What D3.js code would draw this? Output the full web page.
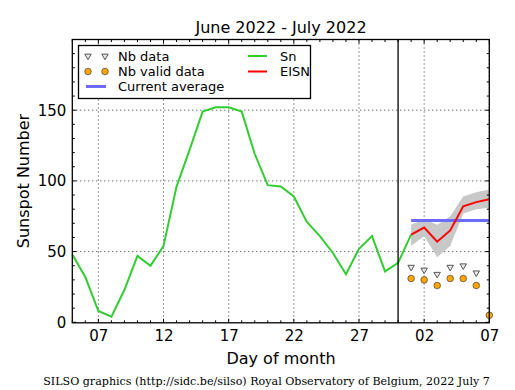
<!DOCTYPE html>
<html>
<head>
<meta charset="utf-8">
<script src="https://cdn.jsdelivr.net/npm/d3@7"></script>
<style>
  body { margin: 0; background: #fff; }
  text { font-family: "DejaVu Sans", sans-serif; fill: #000; }
</style>
</head>
<body>
<div id="okvir"></div>
<script>
// podaci ocitani sa slike
const snDays = ["2022-06-05","2022-06-06","2022-06-07","2022-06-08","2022-06-09","2022-06-10","2022-06-11","2022-06-12","2022-06-13","2022-06-14","2022-06-15","2022-06-16","2022-06-17","2022-06-18","2022-06-19","2022-06-20","2022-06-21","2022-06-22","2022-06-23","2022-06-24","2022-06-25","2022-06-26","2022-06-27","2022-06-28","2022-06-29","2022-06-30","2022-07-01"]
const snValues = [48, 32, 8, 4, 23, 47, 40, 54, 96, 122, 149, 152, 152, 149, 119, 97, 96, 89, 71, 61, 49, 34, 52, 61, 36, 42, 62]

const eisnDays = ["2022-07-01","2022-07-02","2022-07-03","2022-07-04","2022-07-05","2022-07-06","2022-07-07"]
const eisnValues = [62, 67, 57, 65, 82, 85, 87]
const eisnUpper = [69, 73, 69, 75, 89, 92, 94]
const eisnLower = [54, 61, 46, 54, 77, 80, 81]

const nbDays = ["2022-07-01","2022-07-02","2022-07-03","2022-07-04","2022-07-05","2022-07-06"]
const nbData = [39, 37, 34, 39, 40, 35]
const validDays = ["2022-07-01","2022-07-02","2022-07-03","2022-07-04","2022-07-05","2022-07-06","2022-07-07"]
const nbValid = [31, 30, 26, 31, 31, 26, 5]

const currentAverage = 72
const averageDays = ["2022-07-01", "2022-07-07"]
const splitDay = "2022-06-30"

const xTickDays = ["2022-06-07","2022-06-12","2022-06-17","2022-06-22","2022-06-27","2022-07-02","2022-07-07"]
const yTicks = [0, 50, 100, 150]

const parse = d3.utcParse("%Y-%m-%d")

let dimenzije = {
  sirina: 515,
  visina: 390,
  lijevo: 72.3,
  desno: 489.3,
  gore: 39.5,
  dolje: 322.8,
}

const okvir = d3.select("#okvir").append("svg")
  .attr("width", dimenzije.sirina)
  .attr("height", dimenzije.visina)

const xSkala = d3.scaleUtc()
  .domain([parse("2022-06-05"), parse("2022-07-07")])
  .range([dimenzije.lijevo, dimenzije.desno])

const ySkala = d3.scaleLinear()
  .domain([0, 200])
  .range([322.3, 39.5])

// mreza
const mreza = okvir.append("g")
mreza.selectAll(".gx").data(xTickDays).join("line")
  .attr("x1", d => xSkala(parse(d))).attr("x2", d => xSkala(parse(d)))
  .attr("y1", dimenzije.gore).attr("y2", dimenzije.dolje)
  .attr("stroke", "#000").attr("stroke-width", 0.8).attr("stroke-dasharray", "1,3")
mreza.selectAll(".gy").data(yTicks.filter(d => d > 0)).join("line")
  .attr("x1", dimenzije.lijevo).attr("x2", dimenzije.desno)
  .attr("y1", d => ySkala(d)).attr("y2", d => ySkala(d))
  .attr("stroke", "#000").attr("stroke-width", 0.8).attr("stroke-dasharray", "1,3")

// sivi pojas oko EISN
const pojas = d3.area()
  .x((d, i) => xSkala(parse(eisnDays[i])))
  .y0((d, i) => ySkala(eisnLower[i]))
  .y1((d, i) => ySkala(eisnUpper[i]))
okvir.append("path")
  .attr("d", pojas(eisnDays))
  .attr("fill", "#c8c8c8")

// trenutni prosjek
okvir.append("line")
  .attr("x1", xSkala(parse(averageDays[0]))).attr("x2", xSkala(parse(averageDays[1])))
  .attr("y1", ySkala(currentAverage)).attr("y2", ySkala(currentAverage))
  .attr("stroke", "#6b6bff").attr("stroke-width", 3)

// Sn linija
const linija = d3.line()
okvir.append("path")
  .attr("d", linija(snDays.map((d, i) => [xSkala(parse(d)), ySkala(snValues[i])])))
  .attr("fill", "none").attr("stroke", "#33cc33").attr("stroke-width", 2)

// EISN linija
okvir.append("path")
  .attr("d", linija(eisnDays.map((d, i) => [xSkala(parse(d)), ySkala(eisnValues[i])])))
  .attr("fill", "none").attr("stroke", "#ff0000").attr("stroke-width", 2)

// Nb data trokuti
const trokut = d3.symbol().type(d3.symbolTriangle).size(18)
okvir.selectAll(".nb").data(nbData).join("path")
  .attr("d", trokut())
  .attr("transform", (d, i) => `translate(${xSkala(parse(nbDays[i]))},${ySkala(d)}) rotate(180)`)
  .attr("fill", "#e8e8e8").attr("stroke", "#555").attr("stroke-width", 1)

// Nb valid data krugovi
okvir.selectAll(".valid").data(nbValid).join("circle")
  .attr("cx", (d, i) => xSkala(parse(validDays[i])))
  .attr("cy", d => ySkala(d))
  .attr("r", 3.3)
  .attr("fill", "#ffa500").attr("stroke", "#444").attr("stroke-width", 0.7)

// okomita linija
okvir.append("line")
  .attr("x1", xSkala(parse(splitDay))).attr("x2", xSkala(parse(splitDay)))
  .attr("y1", dimenzije.gore).attr("y2", dimenzije.dolje)
  .attr("stroke", "#000").attr("stroke-width", 1.3)

// okvir grafa
okvir.append("rect")
  .attr("x", dimenzije.lijevo).attr("y", dimenzije.gore)
  .attr("width", dimenzije.desno - dimenzije.lijevo)
  .attr("height", dimenzije.dolje - dimenzije.gore)
  .attr("fill", "none").attr("stroke", "#000").attr("stroke-width", 1.3)

// osi - kvacice prema unutra
const sviDani = d3.utcDay.range(parse("2022-06-05"), parse("2022-07-08"))
const kvacice = okvir.append("g")
sviDani.forEach(d => {
  const x = xSkala(d)
  const major = xTickDays.some(t => +parse(t) === +d)
  const l = major ? 4 : 2.5
  kvacice.append("line").attr("x1", x).attr("x2", x).attr("y1", dimenzije.dolje).attr("y2", dimenzije.dolje - l).attr("stroke", "#000")
  kvacice.append("line").attr("x1", x).attr("x2", x).attr("y1", dimenzije.gore).attr("y2", dimenzije.gore + l).attr("stroke", "#000")
})
d3.range(0, 201, 10).forEach(v => {
  const y = ySkala(v)
  const l = v % 50 === 0 ? 4 : 2.5
  kvacice.append("line").attr("x1", dimenzije.lijevo).attr("x2", dimenzije.lijevo + l).attr("y1", y).attr("y2", y).attr("stroke", "#000")
  kvacice.append("line").attr("x1", dimenzije.desno).attr("x2", dimenzije.desno - l).attr("y1", y).attr("y2", y).attr("stroke", "#000")
})

const xOs = d3.axisBottom(xSkala)
  .tickValues(xTickDays.map(parse))
  .tickFormat(d3.utcFormat("%d"))
  .tickSize(0).tickPadding(8)
const xg = okvir.append("g").attr("transform", `translate(0,${dimenzije.dolje})`).call(xOs)
xg.select(".domain").remove()
xg.selectAll("text").style("font-size", "15px").style("font-family", "DejaVu Sans")

const yOs = d3.axisLeft(ySkala)
  .tickValues(yTicks)
  .tickSize(0).tickPadding(6)
const yg = okvir.append("g").attr("transform", `translate(${dimenzije.lijevo},0)`).call(yOs)
yg.select(".domain").remove()
yg.selectAll("text").style("font-size", "15px").style("font-family", "DejaVu Sans")

// naslovi
okvir.append("text")
  .attr("x", 281).attr("y", 33)
  .attr("text-anchor", "middle").style("font-size", "16px")
  .text("June 2022 - July 2022")
okvir.append("text")
  .attr("x", 281).attr("y", 364)
  .attr("text-anchor", "middle").style("font-size", "16px")
  .text("Day of month")
okvir.append("text")
  .attr("transform", `translate(29,181) rotate(-90)`)
  .attr("text-anchor", "middle").style("font-size", "16px")
  .text("Sunspot Number")
okvir.append("text")
  .attr("x", 266.5).attr("y", 385)
  .attr("text-anchor", "middle")
  .style("font-size", "11.1px").style("font-family", "DejaVu Serif")
  .text("SILSO graphics (http://sidc.be/silso) Royal Observatory of Belgium, 2022 July 7")

// legenda
const legenda = okvir.append("g")
legenda.append("rect")
  .attr("x", 78.5).attr("y", 45.5).attr("width", 232).attr("height", 53)
  .attr("fill", "#fff").attr("stroke", "#000").attr("stroke-width", 1.3)
;[88, 105].forEach(x => {
  legenda.append("path").attr("d", trokut())
    .attr("transform", `translate(${x},56) rotate(180)`)
    .attr("fill", "#e8e8e8").attr("stroke", "#555")
  legenda.append("circle").attr("cx", x).attr("cy", 71.5).attr("r", 3.3)
    .attr("fill", "#ffa500").attr("stroke", "#444").attr("stroke-width", 0.7)
})
legenda.append("line").attr("x1", 86).attr("x2", 106).attr("y1", 86.5).attr("y2", 86.5)
  .attr("stroke", "#6b6bff").attr("stroke-width", 3)
legenda.append("line").attr("x1", 248).attr("x2", 267).attr("y1", 56).attr("y2", 56)
  .attr("stroke", "#33cc33").attr("stroke-width", 2)
legenda.append("line").attr("x1", 248).attr("x2", 267).attr("y1", 71.5).attr("y2", 71.5)
  .attr("stroke", "#ff0000").attr("stroke-width", 2)
const stavke = [["Nb data", 118, 56], ["Nb valid data", 118, 71.5], ["Current average", 118, 86.5], ["Sn", 280, 56], ["EISN", 280, 71.5]]
legenda.selectAll(".lt").data(stavke).join("text")
  .attr("x", d => d[1]).attr("y", d => d[2])
  .attr("dy", "0.35em").style("font-size", "13px")
  .text(d => d[0])
</script>
</body>
</html>
